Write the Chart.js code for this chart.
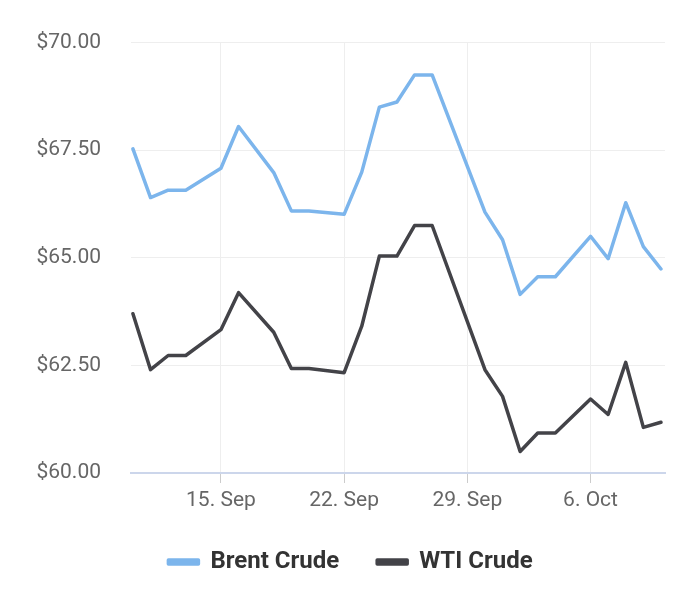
<!DOCTYPE html>
<html>
<head>
<meta charset="utf-8">
<script src="https://cdn.jsdelivr.net/npm/chart.js@4"></script>
<style>
  body { margin: 0; background: #fff; }
  #wrap { width: 700px; height: 589px; }
</style>
</head>
<body>
<div id="wrap"><canvas id="oilChart"></canvas></div>
<script>
// Data (day of September, Oct days continue past 30)
const days = [10, 11, 12, 13, 15, 16, 18, 19, 20, 22, 23, 24, 25, 26, 27, 30, 31, 32, 33, 34, 36, 37, 38, 39, 40];
const brent = [67.53, 66.40, 66.57, 66.57, 67.08, 68.05, 66.98, 66.09, 66.09, 66.01, 66.99, 68.50, 68.62, 69.25, 69.25, 66.06, 65.42, 64.15, 64.56, 64.56, 65.50, 64.98, 66.28, 65.26, 64.74];
const wti = [63.70, 62.40, 62.73, 62.73, 63.33, 64.19, 63.27, 62.43, 62.43, 62.33, 63.41, 65.04, 65.04, 65.75, 65.75, 62.40, 61.78, 60.50, 60.93, 60.93, 61.72, 61.36, 62.57, 61.06, 61.18];
const seriesNames = ["Brent Crude", "WTI Crude"];
const xTicks = [15, 22, 29, 36];
const yTicks = [60, 62.5, 65, 67.5, 70];

function toPoints(values) {
    return values.map((v, i) => ({ x: days[i], y: v }));
}

function dayLabel(d) {
    if (d <= 30) return d + ". Sep";
    return (d - 30) + ". Oct";
}

Chart.defaults.font.family = "Roboto";

new Chart(document.getElementById("oilChart"), {
    type: "line",
    data: {
        datasets: [
            {
                label: seriesNames[0],
                data: toPoints(brent),
                borderColor: "#7cb5ec",
                backgroundColor: "#7cb5ec",
                borderWidth: 3.5,
                pointRadius: 0,
                borderJoinStyle: "round",
                borderCapStyle: "round",
                tension: 0
            },
            {
                label: seriesNames[1],
                data: toPoints(wti),
                borderColor: "#434348",
                backgroundColor: "#434348",
                borderWidth: 3.5,
                pointRadius: 0,
                borderJoinStyle: "round",
                borderCapStyle: "round",
                tension: 0
            }
        ]
    },
    options: {
        responsive: true,
        maintainAspectRatio: false,
        animation: false,
        layout: {
            padding: { left: 36, right: 35, top: 40, bottom: 5 }
        },
        plugins: {
            tooltip: { enabled: false },
            legend: {
                position: "bottom",
                labels: {
                    boxWidth: 30,
                    boxHeight: 4,
                    padding: 38,
                    color: "#333333",
                    font: { size: 24, weight: "bold" }
                }
            }
        },
        scales: {
            x: {
                type: "linear",
                min: 9.89,
                max: 40.23,
                afterBuildTicks: function (axis) {
                    axis.ticks = xTicks.map(v => ({ value: v }));
                },
                afterFit: function (axis) {
                    axis.height = 39;
                },
                ticks: {
                    color: "#666666",
                    font: { size: 21 },
                    padding: 5,
                    maxRotation: 0,
                    callback: function (value) {
                        return dayLabel(value);
                    }
                },
                grid: {
                    color: "#eeeeee",
                    tickColor: "#cccccc",
                    tickLength: 10,
                    lineWidth: 1
                },
                border: { color: "#ccd6eb", width: 2 }
            },
            y: {
                min: 60,
                max: 70,
                afterBuildTicks: function (axis) {
                    axis.ticks = yTicks.map(v => ({ value: v }));
                },
                afterFit: function (axis) {
                    axis.width = 95;
                },
                ticks: {
                    color: "#666666",
                    font: { size: 21 },
                    padding: 30,
                    callback: function (value) {
                        return "$" + value.toFixed(2);
                    }
                },
                grid: {
                    color: "#eeeeee",
                    drawTicks: false,
                    lineWidth: 1
                },
                border: { display: false }
            }
        }
    }
});
</script>
</body>
</html>
